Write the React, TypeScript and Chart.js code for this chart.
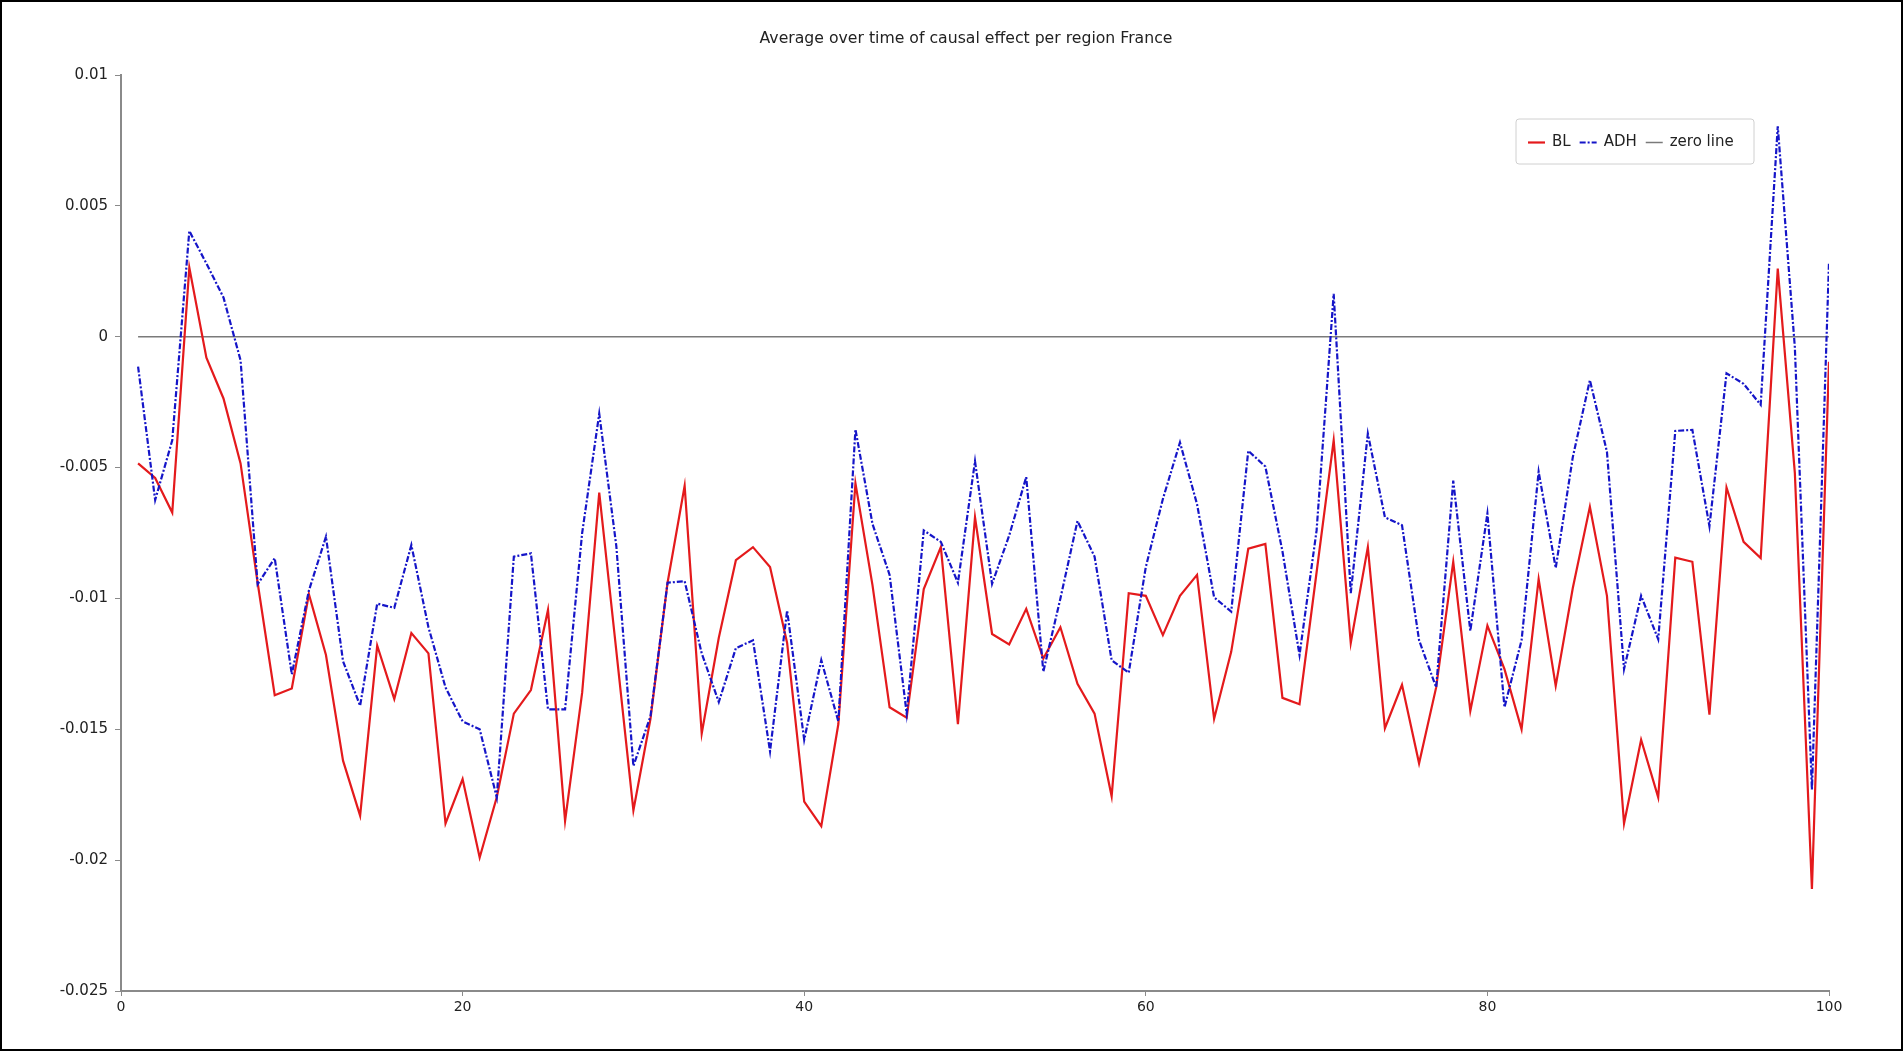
import React, { useEffect, useRef } from "react";
import { Chart, registerables } from "chart.js";

Chart.register(...registerables);

const titleText = "Average over time of causal effect per region France";
const seriesNames = ["BL", "ADH", "zero line"];

const xValues: number[] = Array.from({ length: 100 }, (_, i) => i + 1);

const blValues: number[] = [
  -0.00484, -0.0054, -0.00672, 0.00264, -0.0008, -0.00236, -0.00484, -0.0094, -0.0137, -0.01344,
  -0.00984, -0.01216, -0.0162, -0.0183, -0.0118, -0.01384, -0.01132, -0.0121, -0.0186, -0.0169,
  -0.0199, -0.0176, -0.0144, -0.0135, -0.01044, -0.0185, -0.0136, -0.00596, -0.012, -0.0181,
  -0.0146, -0.0094, -0.0057, -0.01516, -0.0115, -0.00854, -0.00804, -0.0088, -0.0117, -0.01776,
  -0.0187, -0.0148, -0.0056, -0.0095, -0.01416, -0.01456, -0.00964, -0.00804, -0.0148, -0.0069,
  -0.01136, -0.01176, -0.0104, -0.0123, -0.0111, -0.01326, -0.0144, -0.01756, -0.0098, -0.0099,
  -0.0114, -0.0099, -0.0091, -0.0146, -0.01204, -0.0081, -0.00792, -0.0138, -0.01404, -0.009,
  -0.00396, -0.0117, -0.00804, -0.01496, -0.0133, -0.0163, -0.0134, -0.0086, -0.0143, -0.01104,
  -0.0127, -0.015, -0.00926, -0.01334, -0.0096, -0.0065, -0.0099, -0.0186, -0.0154, -0.0176,
  -0.00844, -0.0086, -0.01444, -0.00576, -0.00784, -0.00846, 0.0026, -0.0052, -0.0211, -0.00096,
];

const adhValues: number[] = [
  -0.00114, -0.00624, -0.00396, 0.00404, 0.0028, 0.0015, -0.0009, -0.00946, -0.00846, -0.0129,
  -0.0097, -0.00764, -0.0124, -0.0141, -0.0102, -0.01036, -0.00796, -0.0111, -0.0134, -0.0147,
  -0.015, -0.0176, -0.0084, -0.00828, -0.01424, -0.01424, -0.0075, -0.00294, -0.008, -0.0164,
  -0.0145, -0.0094, -0.00934, -0.0121, -0.01396, -0.0119, -0.0116, -0.01584, -0.01046, -0.0154,
  -0.01236, -0.0147, -0.00354, -0.00716, -0.0091, -0.0144, -0.0074, -0.00784, -0.0094, -0.00476,
  -0.00944, -0.0076, -0.00536, -0.0128, -0.01, -0.00704, -0.0084, -0.01236, -0.01284, -0.0088,
  -0.0062, -0.00404, -0.0064, -0.00996, -0.0105, -0.00436, -0.00496, -0.0082, -0.01216, -0.0074,
  0.00164, -0.0098, -0.0037, -0.0069, -0.0072, -0.0116, -0.0134, -0.0055, -0.01124, -0.00676,
  -0.01416, -0.0116, -0.00516, -0.00884, -0.0046, -0.00166, -0.0044, -0.0127, -0.0099, -0.01156,
  -0.0036, -0.00356, -0.00724, -0.0014, -0.0018, -0.0026, 0.00804, -0.0004, -0.0173, 0.00284,
];

const zeroLineX: number[] = [1, 100];
const zeroLineY: number[] = [0, 0];

const yTickValues: number[] = [-0.025, -0.02, -0.015, -0.01, -0.005, 0, 0.005, 0.01];
const yTickLabels: string[] = ["-0.025", "-0.02", "-0.015", "-0.01", "-0.005", "0", "0.005", "0.01"];
const xTickValues: number[] = [0, 20, 40, 60, 80, 100];
const xTickLabels: string[] = ["0", "20", "40", "60", "80", "100"];

const FONT = "'DejaVu Sans', Verdana, sans-serif";

const titlePlugin = {
  id: "customTitle",
  afterDraw(chart: any) {
    const ctx = chart.ctx;
    const a = chart.chartArea;
    ctx.save();
    ctx.font = `15.7px ${FONT}`;
    ctx.fillStyle = "#222222";
    ctx.textAlign = "center";
    ctx.textBaseline = "middle";
    ctx.fillText(titleText, (a.left + a.right) / 2 - 9, a.top - 36);
    ctx.restore();
  },
};

const legendPlugin = {
  id: "insideLegend",
  afterDraw(chart: any) {
    const ctx = chart.ctx;
    const a = chart.chartArea;
    const w = 238;
    const h = 45;
    const right = a.right - 75;
    const top = a.top + 44;
    const left = right - w;
    ctx.save();
    ctx.fillStyle = "#ffffff";
    ctx.strokeStyle = "#d0d0d0";
    ctx.lineWidth = 1;
    ctx.beginPath();
    const r = 3;
    ctx.moveTo(left + r, top);
    ctx.lineTo(left + w - r, top);
    ctx.quadraticCurveTo(left + w, top, left + w, top + r);
    ctx.lineTo(left + w, top + h - r);
    ctx.quadraticCurveTo(left + w, top + h, left + w - r, top + h);
    ctx.lineTo(left + r, top + h);
    ctx.quadraticCurveTo(left, top + h, left, top + h - r);
    ctx.lineTo(left, top + r);
    ctx.quadraticCurveTo(left, top, left + r, top);
    ctx.closePath();
    ctx.fill();
    ctx.stroke();

    ctx.font = `15px ${FONT}`;
    ctx.textBaseline = "middle";
    ctx.textAlign = "left";
    let x = left + 12;
    const y = top + h / 2 + 1;
    chart.data.datasets.forEach((ds: any) => {
      ctx.save();
      ctx.strokeStyle = ds.borderColor;
      ctx.lineWidth = ds.borderWidth;
      ctx.setLineDash(ds.borderDash || []);
      ctx.beginPath();
      ctx.moveTo(x, y);
      ctx.lineTo(x + 17, y);
      ctx.stroke();
      ctx.restore();
      ctx.fillStyle = "#222222";
      ctx.fillText(ds.label, x + 24, y);
      x += 24 + ctx.measureText(ds.label).width + 9;
    });
    ctx.restore();
  },
};

export default function App() {
  const canvasRef = useRef<HTMLCanvasElement | null>(null);

  useEffect(() => {
    document.body.style.margin = "0";
    document.body.style.overflow = "hidden";
    const canvas = canvasRef.current;
    if (!canvas) return;

    const axisColor = "#8a8a8a";

    const chart = new Chart(canvas, {
      type: "line",
      data: {
        datasets: [
          {
            label: seriesNames[0],
            data: xValues.map((x, i) => ({ x, y: blValues[i] })),
            borderColor: "#e41a1c",
            borderWidth: 2.2,
            pointRadius: 0,
            tension: 0,
            fill: false,
            order: 2,
          },
          {
            label: seriesNames[1],
            data: xValues.map((x, i) => ({ x, y: adhValues[i] })),
            borderColor: "#1515c8",
            borderWidth: 2.2,
            borderDash: [6, 2, 2, 2],
            pointRadius: 0,
            tension: 0,
            fill: false,
            order: 1,
          },
          {
            label: seriesNames[2],
            data: zeroLineX.map((x, i) => ({ x, y: zeroLineY[i] })),
            borderColor: "#7a7a7a",
            borderWidth: 1.5,
            pointRadius: 0,
            tension: 0,
            fill: false,
            order: 3,
          },
        ],
      },
      options: {
        responsive: false,
        animation: false,
        devicePixelRatio: 1,
        layout: { padding: { left: 29, right: 72, top: 73, bottom: 18 } },
        plugins: {
          legend: { display: false },
          title: { display: false },
          tooltip: { enabled: false },
        },
        scales: {
          x: {
            type: "linear",
            min: 0,
            max: 100,
            afterBuildTicks: (scale: any) => {
              scale.ticks = xTickValues.map((v) => ({ value: v }));
            },
            afterFit: (scale: any) => {
              scale.height = 40;
            },
            ticks: {
              callback: (_v: any, i: number) => xTickLabels[i],
              color: "#222222",
              font: { family: FONT, size: 14 },
              padding: 3,
              maxRotation: 0,
            },
            grid: {
              drawOnChartArea: false,
              drawTicks: true,
              tickLength: 5,
              color: axisColor,
            },
            border: { display: true, color: axisColor, width: 2 },
          },
          y: {
            type: "linear",
            min: -0.025,
            max: 0.01,
            afterBuildTicks: (scale: any) => {
              scale.ticks = yTickValues.map((v) => ({ value: v }));
            },
            afterFit: (scale: any) => {
              scale.width = 90;
            },
            ticks: {
              callback: (_v: any, i: number) => yTickLabels[i],
              color: "#222222",
              font: { family: FONT, size: 15 },
              padding: 7,
            },
            grid: {
              drawOnChartArea: false,
              drawTicks: true,
              tickLength: 6,
              color: axisColor,
            },
            border: { display: true, color: axisColor, width: 2 },
          },
        },
      },
      plugins: [titlePlugin, legendPlugin],
    });

    return () => {
      chart.destroy();
    };
  }, []);

  return (
    <div
      style={{
        width: 1903,
        height: 1051,
        boxSizing: "border-box",
        border: "2px solid #000",
        background: "#fff",
        position: "relative",
        overflow: "hidden",
      }}
    >
      <canvas ref={canvasRef} width={1899} height={1047} style={{ display: "block", width: 1899, height: 1047 }} />
    </div>
  );
}
